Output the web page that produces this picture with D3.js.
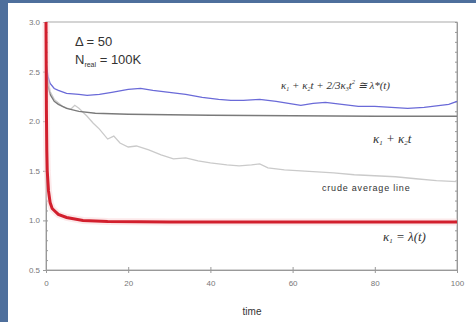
<!DOCTYPE html>
<html>
<head>
<meta charset="utf-8">
<script src="https://cdn.jsdelivr.net/npm/d3@7"></script>
<style>
  body { margin: 0; background: #4e6f9c; }
  svg { display: block; }
  .axis text { font-family: "Liberation Sans", Arial, sans-serif; font-size: 8px; fill: #777; }
  .axis path, .axis line { stroke: #999; }
  .math { font-family: "Liberation Serif", "Times New Roman", serif; font-style: italic; fill: #333; }
  .note { font-family: "Liberation Sans", Arial, sans-serif; fill: #333; }
</style>
</head>
<body>
<svg width="476" height="322"></svg>
<script>
// Ticks
const xTicks = [0, 20, 40, 60, 80, 100];
const yTicks = [0.5, 1.0, 1.5, 2.0, 2.5, 3.0];
const yMinor = d3.range(5, 31).map(d => d / 10);

// Series: [time, value]
const lambdaLine = [[0, 3.0], [0.1, 2.1], [0.2, 1.7], [0.3, 1.5], [0.6, 1.3], [1, 1.18], [1.5, 1.12], [2, 1.1],
  [3, 1.06], [5, 1.03], [9, 1.0], [15, 0.99], [30, 0.985], [50, 0.985], [100, 0.985]];

const cubicLine = [[0, 2.6], [0.5, 2.45], [1, 2.38], [2, 2.33], [3, 2.31], [5, 2.28], [8, 2.27], [10, 2.26], [13, 2.27],
  [16, 2.29], [20, 2.32], [23, 2.33], [26, 2.31], [30, 2.29], [34, 2.27], [38, 2.24], [42, 2.22], [45, 2.21],
  [48, 2.21], [52, 2.22], [56, 2.2], [59, 2.18], [62, 2.16], [65, 2.18], [68, 2.19], [72, 2.17], [76, 2.15],
  [80, 2.15], [84, 2.14], [88, 2.13], [92, 2.14], [96, 2.16], [98, 2.17], [100, 2.2]];

const linearLine = [[0, 2.55], [0.5, 2.35], [1, 2.27], [2, 2.2], [3, 2.17], [5, 2.13], [8, 2.1], [12, 2.08],
  [20, 2.07], [40, 2.06], [60, 2.055], [80, 2.05], [100, 2.05]];

const crudeLine = [[0, 2.55], [1, 2.3], [2, 2.22], [4, 2.15], [6, 2.12], [7, 2.16], [8, 2.13], [10, 2.05],
  [11.5, 1.98], [13, 1.92], [15, 1.82], [16.5, 1.85], [18, 1.78], [20, 1.74], [22, 1.75], [25, 1.71], [28, 1.66],
  [31, 1.62], [34, 1.63], [37, 1.6], [40, 1.58], [44, 1.56], [47, 1.55], [50, 1.56], [52, 1.57], [54, 1.53],
  [58, 1.51], [62, 1.5], [66, 1.49], [70, 1.48], [75, 1.46], [80, 1.45], [85, 1.44], [90, 1.42], [95, 1.4], [100, 1.39]];

const svg = d3.select("svg");

// white panel
svg.append("rect").attr("x", 8).attr("y", 3).attr("width", 468).attr("height", 319).attr("fill", "#fff");

const mLeft = 46, mRight = 457, mTop = 22, mBottom = 270;
const x = d3.scaleLinear().domain([0, 100]).range([mLeft, mRight]);
const y = d3.scaleLinear().domain([0.5, 3.0]).range([mBottom, mTop]);

// frame
svg.append("rect")
  .attr("x", mLeft).attr("y", mTop)
  .attr("width", mRight - mLeft).attr("height", mBottom - mTop)
  .attr("fill", "none").attr("stroke", "#aaa").attr("stroke-width", 1);

// y axis, major and minor
svg.append("g").attr("class", "axis")
  .attr("transform", `translate(${mLeft},0)`)
  .call(d3.axisLeft(y).tickValues(yTicks).tickFormat(d3.format(".1f")).tickSize(3).tickPadding(3));
svg.append("g").attr("class", "axis")
  .attr("transform", `translate(${mLeft},0)`)
  .call(d3.axisRight(y).tickValues(yMinor).tickFormat("").tickSize(2))
  .select(".domain").remove();
// right side ticks
svg.append("g").attr("class", "axis")
  .attr("transform", `translate(${mRight},0)`)
  .call(d3.axisLeft(y).tickValues(yMinor).tickFormat("").tickSize(2));

// x axis
svg.append("g").attr("class", "axis")
  .attr("transform", `translate(0,${mBottom})`)
  .call(d3.axisBottom(x).tickValues(xTicks).tickSize(3).tickPadding(7));
svg.append("g").attr("class", "axis")
  .attr("transform", `translate(0,${mBottom})`)
  .call(d3.axisTop(x).tickValues(xTicks).tickFormat("").tickSize(3))
  .select(".domain").remove();

svg.append("text").attr("class", "note")
  .attr("x", 252).attr("y", 315).attr("text-anchor", "middle")
  .attr("font-size", 10).attr("fill", "#555").text("time");

const line = d3.line().x(d => x(d[0])).y(d => y(d[1]));

svg.append("path").datum(crudeLine).attr("d", line)
  .attr("fill", "none").attr("stroke", "#cacaca").attr("stroke-width", 1.3);
svg.append("path").datum(linearLine).attr("d", line)
  .attr("fill", "none").attr("stroke", "#7a7a7a").attr("stroke-width", 1.3);
svg.append("path").datum(cubicLine).attr("d", line)
  .attr("fill", "none").attr("stroke", "#6a6ad8").attr("stroke-width", 1.3);
// soft glow then the red curve
svg.append("path").datum(lambdaLine).attr("d", line)
  .attr("fill", "none").attr("stroke", "#f9d3d5").attr("stroke-width", 7).attr("opacity", 0.5);
svg.append("path").datum(lambdaLine).attr("d", line)
  .attr("fill", "none").attr("stroke", "#d21f2d").attr("stroke-width", 3);

// annotations
svg.append("text").attr("class", "note").attr("x", 75).attr("y", 46).attr("font-size", 13).text("Δ = 50");
const nt = svg.append("text").attr("class", "note").attr("x", 75).attr("y", 64).attr("font-size", 13);
nt.append("tspan").text("N");
nt.append("tspan").attr("font-size", 7).attr("dy", 3).text("real");
nt.append("tspan").attr("dy", -3).text(" = 100K");

const m1 = svg.append("text").attr("class", "math").attr("x", 281).attr("y", 89).attr("font-size", 11);
m1.append("tspan").text("κ");
m1.append("tspan").attr("font-size", 6).attr("dy", 2).text("1");
m1.append("tspan").attr("dy", -2).text(" + κ");
m1.append("tspan").attr("font-size", 6).attr("dy", 2).text("2");
m1.append("tspan").attr("dy", -2).text("t + 2/3κ");
m1.append("tspan").attr("font-size", 6).attr("dy", 2).text("3");
m1.append("tspan").attr("dy", -2).text("t");
m1.append("tspan").attr("font-size", 6).attr("dy", -5).text("2");
m1.append("tspan").attr("dy", 5).text(" ≅ λ*(t)");

const m2 = svg.append("text").attr("class", "math").attr("x", 373).attr("y", 143).attr("font-size", 13);
m2.append("tspan").text("κ");
m2.append("tspan").attr("font-size", 7).attr("dy", 2).text("1");
m2.append("tspan").attr("dy", -2).text(" + κ");
m2.append("tspan").attr("font-size", 7).attr("dy", 2).text("2");
m2.append("tspan").attr("dy", -2).text("t");

svg.append("text").attr("class", "note").attr("x", 322).attr("y", 191)
  .attr("font-size", 9).attr("letter-spacing", 0.8).attr("fill", "#777").text("crude average line");

const m3 = svg.append("text").attr("class", "math").attr("x", 383).attr("y", 241).attr("font-size", 13);
m3.append("tspan").text("κ");
m3.append("tspan").attr("font-size", 7).attr("dy", 2).text("1");
m3.append("tspan").attr("dy", -2).text(" = λ(t)");
</script>
</body>
</html>
